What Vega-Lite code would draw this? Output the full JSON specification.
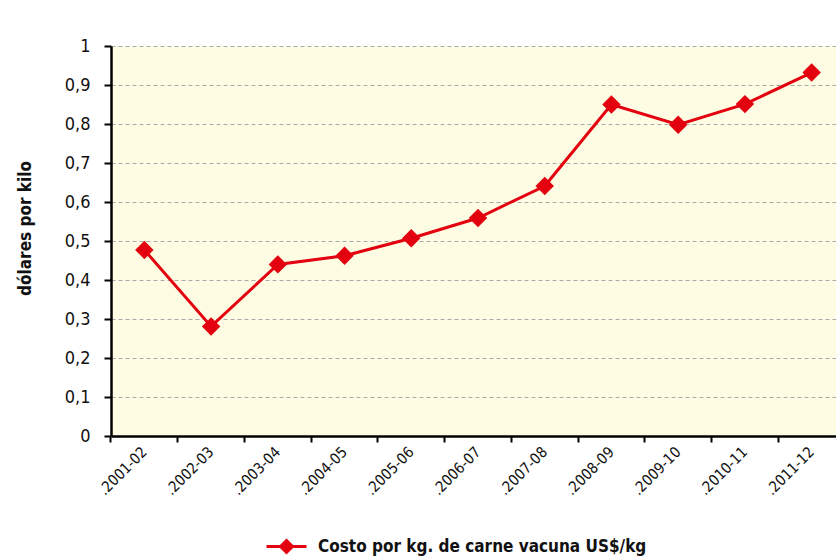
{
  "$schema": "https://vega.github.io/schema/vega-lite/v6.json",
  "autosize": {"type": "none"},
  "padding": {"left": 111, "top": 46, "right": 0, "bottom": 120},
  "width": 725,
  "height": 390,
  "background": "#FFFFFF",
  "config": {
    "view": {"fill": "#FEFCE3", "stroke": null},
    "font": "DejaVu Sans Condensed, Roboto, sans-serif"
  },
  "data": {
    "values": [
      {"periodo": ".2001-02", "valor": 0.477, "serie": "Costo por kg. de carne vacuna US$/kg"},
      {"periodo": ".2002-03", "valor": 0.281, "serie": "Costo por kg. de carne vacuna US$/kg"},
      {"periodo": ".2003-04", "valor": 0.44, "serie": "Costo por kg. de carne vacuna US$/kg"},
      {"periodo": ".2004-05", "valor": 0.462, "serie": "Costo por kg. de carne vacuna US$/kg"},
      {"periodo": ".2005-06", "valor": 0.507, "serie": "Costo por kg. de carne vacuna US$/kg"},
      {"periodo": ".2006-07", "valor": 0.559, "serie": "Costo por kg. de carne vacuna US$/kg"},
      {"periodo": ".2007-08", "valor": 0.641, "serie": "Costo por kg. de carne vacuna US$/kg"},
      {"periodo": ".2008-09", "valor": 0.85, "serie": "Costo por kg. de carne vacuna US$/kg"},
      {"periodo": ".2009-10", "valor": 0.798, "serie": "Costo por kg. de carne vacuna US$/kg"},
      {"periodo": ".2010-11", "valor": 0.851, "serie": "Costo por kg. de carne vacuna US$/kg"},
      {"periodo": ".2011-12", "valor": 0.932, "serie": "Costo por kg. de carne vacuna US$/kg"}
    ]
  },
  "encoding": {
    "x": {
      "field": "periodo",
      "type": "nominal",
      "sort": null,
      "scale": {"type": "band", "paddingInner": 0, "paddingOuter": 0, "range": [0, 734]},
      "axis": {
        "title": null,
        "bandPosition": 0,
        "labelAngle": -45,
        "labelAlign": "right",
        "labelBaseline": "middle",
        "labelFont": "DejaVu Sans Condensed, Roboto, sans-serif",
        "labelFontSize": 15,
        "labelColor": "#111111",
        "labelPadding": 7,
        "domainColor": "#000000",
        "domainWidth": 2.5,
        "tickColor": "#000000",
        "tickWidth": 2,
        "tickSize": 6,
        "grid": false
      }
    },
    "y": {
      "field": "valor",
      "type": "quantitative",
      "scale": {"domain": [0, 1], "nice": false, "zero": true},
      "axis": {
        "title": "dólares por kilo",
        "titleFont": "DejaVu Sans Condensed, Roboto, sans-serif",
        "titleFontSize": 17,
        "titleFontWeight": "bold",
        "titleColor": "#111111",
        "titleX": -86,
        "titleY": 182,
        "titleAngle": -90,
        "titleAlign": "center",
        "titleBaseline": "middle",
        "values": [0, 0.1, 0.2, 0.3, 0.4, 0.5, 0.6, 0.7, 0.8, 0.9, 1],
        "format": ".1~f",
        "labelExpr": "replace(datum.label, '.', ',')",
        "labelFont": "DejaVu Sans Condensed, Roboto, sans-serif",
        "labelFontSize": 18,
        "labelColor": "#111111",
        "labelPadding": 14,
        "domainColor": "#000000",
        "domainWidth": 2.5,
        "tickColor": "#000000",
        "tickWidth": 2,
        "tickSize": 7,
        "grid": true,
        "gridColor": "#AAAAAA",
        "gridDash": [4, 3],
        "gridWidth": 1
      }
    },
    "color": {
      "field": "serie",
      "type": "nominal",
      "scale": {"range": ["#E3000F"]},
      "legend": {
        "title": null,
        "orient": "none",
        "legendX": 154,
        "legendY": 479,
        "padding": 0,
        "labelFont": "DejaVu Sans Condensed, Roboto, sans-serif",
        "labelFontSize": 17,
        "labelFontWeight": "bold",
        "labelColor": "#111111",
        "labelOffset": 10,
        "labelLimit": 500,
        "symbolType": "M-1,0L1,0M0,-0.3L0.3,0L0,0.3L-0.3,0Z",
        "symbolSize": 1600,
        "symbolFillColor": "#E3000F",
        "symbolStrokeColor": "#E3000F",
        "symbolStrokeWidth": 3,
        "symbolOpacity": 1,
        "encode": {
          "symbols": {
            "update": {
              "fill": {"value": "#E3000F"},
              "stroke": {"value": "#E3000F"},
              "strokeWidth": {"value": 3},
              "shape": {"value": "M-1,0L1,0M0,-0.3L0.3,0L0,0.3L-0.3,0Z"},
              "size": {"value": 1600},
              "opacity": {"value": 1}
            }
          }
        }
      }
    }
  },
  "layer": [
    {"mark": {"type": "line", "strokeWidth": 3}},
    {"mark": {"type": "point", "shape": "diamond", "filled": true, "size": 340, "opacity": 1}}
  ]
}
